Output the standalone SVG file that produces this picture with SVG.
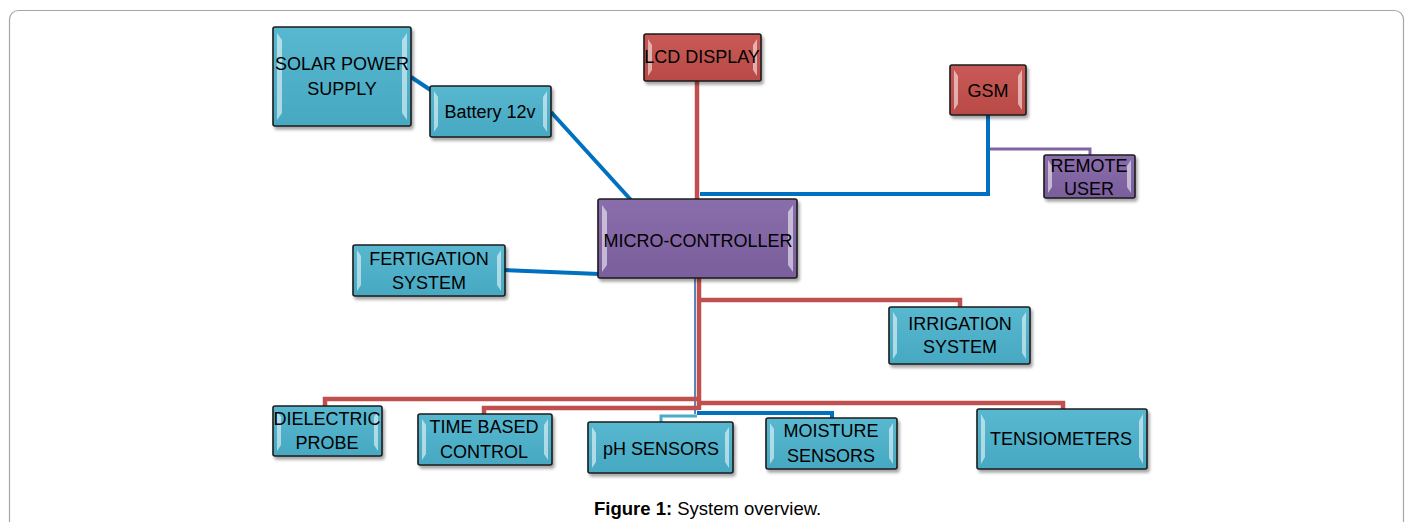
<svg xmlns="http://www.w3.org/2000/svg" width="1413" height="522" viewBox="0 0 1413 522">
<defs>
<filter id="sh" x="-10%" y="-10%" width="130%" height="140%">
<feDropShadow dx="2" dy="3" stdDeviation="1.8" flood-color="#000" flood-opacity="0.35"/>
</filter>
<linearGradient id="gT" x1="0" y1="0" x2="0" y2="1">
<stop offset="0" stop-color="#58b8d0"/><stop offset="1" stop-color="#47a8c1"/>
</linearGradient>
<linearGradient id="gR" x1="0" y1="0" x2="0" y2="1">
<stop offset="0" stop-color="#c95a56"/><stop offset="1" stop-color="#b84a47"/>
</linearGradient>
<linearGradient id="gP" x1="0" y1="0" x2="0" y2="1">
<stop offset="0" stop-color="#8a6eab"/><stop offset="1" stop-color="#7a5e9c"/>
</linearGradient>
</defs>
<style>
.box{stroke:#1c1c1c;stroke-width:1.6;filter:url(#sh)}
.teal{fill:url(#gT)}
.red{fill:url(#gR)}
.pur{fill:url(#gP)}
.hl{fill:#ffffff;opacity:0.55}
.t{font-family:"Liberation Sans",Arial,sans-serif;font-size:18px;fill:#000;text-anchor:middle}
.cb{fill:none;stroke:#0070c0;stroke-width:4}
.cr{fill:none;stroke:#c0504d;stroke-width:4.5}
.cp{fill:none;stroke:#8064a2;stroke-width:3}
.cl{fill:none;stroke:#4bacc6;stroke-width:3}
.cap{font-family:"Liberation Sans",Arial,sans-serif;font-size:18.5px;fill:#000}
</style>
<rect x="9.5" y="10.5" width="1394" height="530" rx="9" fill="#fff" stroke="#a6a6a6" stroke-width="1.2"/>
<g id="connectors">
<path class="cb" d="M411,77 L432,91"/>
<path class="cb" d="M551,112 L631,200"/>
<path class="cr" d="M697,81 V199"/>
<path class="cb" d="M988,115 V194 H700"/>
<path class="cp" d="M990,149 H1090 V156"/>
<path class="cb" d="M505,270 L599,274"/>
<path fill="none" stroke="#5a84c0" stroke-width="2" d="M695,278 V414"/>
<path class="cr" d="M699,278 V410"/>
<path class="cr" d="M699,300 H960 V308"/>
<path class="cr" d="M699,399 H325 V407"/>
<path class="cr" d="M699,403 H1063 V410"/>
<path class="cr" d="M699,408 H484 V415"/>
<path class="cb" d="M697,413 H832 V419"/>
<path class="cl" d="M697,416 H661 V423"/>
</g>
<g id="solar">
<rect class="box teal" x="273" y="27" width="138" height="99" rx="2"/>
<path class="hl" d="M277,33 L282,40 V113 L277,120 Z M407,33 L402,40 V113 L407,120 Z"/>
<text class="t" x="342" y="70">SOLAR POWER</text>
<text class="t" x="342" y="95">SUPPLY</text>
</g>
<g id="battery">
<rect class="box teal" x="430" y="86" width="121" height="51" rx="2"/>
<path class="hl" d="M434,91 L438,97 V126 L434,132 Z M547,91 L543,97 V126 L547,132 Z"/>
<text class="t" x="490" y="118">Battery 12v</text>
</g>
<g id="lcd">
<rect class="box red" x="644" y="34" width="117" height="47" rx="2"/>
<path class="hl" d="M648,39 L652,45 V70 L648,76 Z M757,39 L753,45 V70 L757,76 Z"/>
<text class="t" x="702" y="63">LCD DISPLAY</text>
</g>
<g id="gsm">
<rect class="box red" x="950" y="65" width="76" height="50" rx="2"/>
<path class="hl" d="M954,70 L958,76 V104 L954,110 Z M1022,70 L1018,76 V104 L1022,110 Z"/>
<text class="t" x="988" y="97">GSM</text>
</g>
<g id="remote">
<rect class="box pur" x="1044" y="155" width="91" height="43" rx="2"/>
<path class="hl" d="M1048,160 L1052,166 V187 L1048,193 Z M1131,160 L1127,166 V187 L1131,193 Z"/>
<text class="t" x="1089" y="172">REMOTE</text>
<text class="t" x="1089" y="195">USER</text>
</g>
<g id="mc">
<rect class="box pur" x="598" y="199" width="199" height="79" rx="2"/>
<path class="hl" d="M602,205 L607,212 V265 L602,272 Z M793,205 L788,212 V265 L793,272 Z"/>
<text class="t" x="698" y="247">MICRO-CONTROLLER</text>
</g>
<g id="fertigation">
<rect class="box teal" x="353" y="245" width="152" height="51" rx="2"/>
<path class="hl" d="M357,250 L361,256 V285 L357,291 Z M501,250 L497,256 V285 L501,291 Z"/>
<text class="t" x="429" y="265">FERTIGATION</text>
<text class="t" x="429" y="289">SYSTEM</text>
</g>
<g id="irrigation">
<rect class="box teal" x="889" y="307" width="141" height="57" rx="2"/>
<path class="hl" d="M893,312 L897,318 V353 L893,359 Z M1026,312 L1022,318 V353 L1026,359 Z"/>
<text class="t" x="960" y="330">IRRIGATION</text>
<text class="t" x="960" y="353">SYSTEM</text>
</g>
<g id="dielectric">
<rect class="box teal" x="273" y="406" width="109" height="50" rx="2"/>
<path class="hl" d="M277,411 L281,417 V445 L277,451 Z M378,411 L374,417 V445 L378,451 Z"/>
<text class="t" x="327" y="425">DIELECTRIC</text>
<text class="t" x="327" y="449">PROBE</text>
</g>
<g id="timebased">
<rect class="box teal" x="418" y="414" width="134" height="51" rx="2"/>
<path class="hl" d="M422,419 L426,425 V454 L422,460 Z M548,419 L544,425 V454 L548,460 Z"/>
<text class="t" x="484" y="433">TIME BASED</text>
<text class="t" x="484" y="458">CONTROL</text>
</g>
<g id="ph">
<rect class="box teal" x="588" y="422" width="145" height="51" rx="2"/>
<path class="hl" d="M592,427 L596,433 V462 L592,468 Z M729,427 L725,433 V462 L729,468 Z"/>
<text class="t" x="661" y="455">pH SENSORS</text>
</g>
<g id="moisture">
<rect class="box teal" x="766" y="418" width="131" height="51" rx="2"/>
<path class="hl" d="M770,423 L774,429 V458 L770,464 Z M893,423 L889,429 V458 L893,464 Z"/>
<text class="t" x="831" y="437">MOISTURE</text>
<text class="t" x="831" y="462">SENSORS</text>
</g>
<g id="tensiometers">
<rect class="box teal" x="977" y="409" width="170" height="60" rx="2"/>
<path class="hl" d="M981,414 L985,421 V457 L981,464 Z M1143,414 L1139,421 V457 L1143,464 Z"/>
<text class="t" x="1061" y="445">TENSIOMETERS</text>
</g>
<text class="cap" x="594" y="515"><tspan font-weight="bold">Figure 1:</tspan> System overview.</text>
</svg>
